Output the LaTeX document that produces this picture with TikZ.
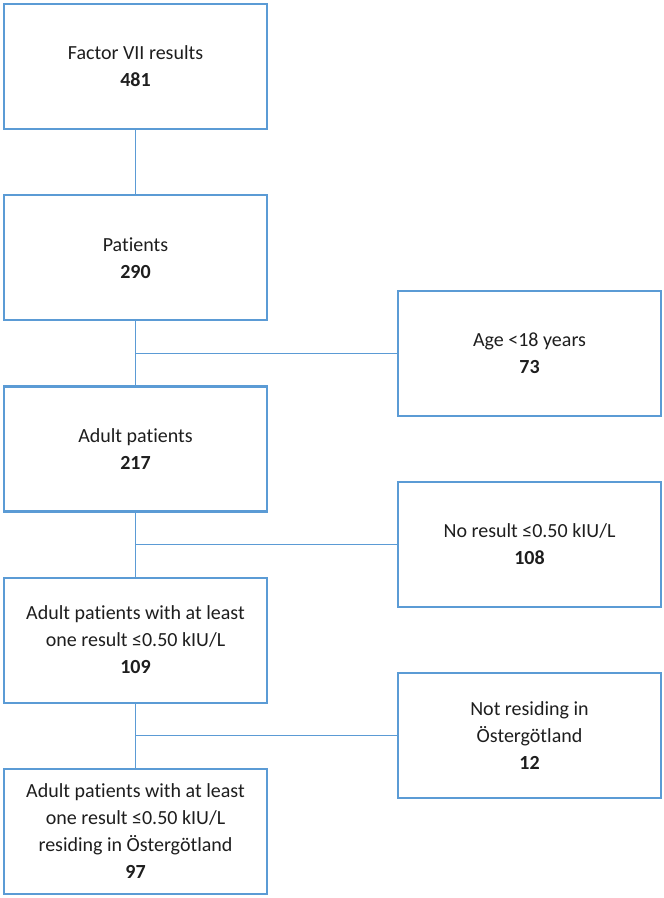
\documentclass[tikz,border=0pt]{standalone}
\usepackage{fontspec}
\setmainfont{Carlito}[Ligatures={NoCommon,NoRare}]
\usetikzlibrary{positioning}
\definecolor{boxBlue}{RGB}{91, 155, 213}
\definecolor{inkDark}{RGB}{30, 30, 30}
\tikzset{
  flowbox/.style={draw=boxBlue, fill=white, line width=2.2pt, minimum width=263pt, minimum height=125pt, inner sep=0pt, align=center, text=inkDark, font=\fontsize{20pt}{27pt}\selectfont},
  link/.style={draw=boxBlue, line width=1.3pt}
}

\begin{document}
\begin{tikzpicture}[x=1pt, y=1pt, node distance=64pt]
  \useasboundingbox (0,0) rectangle (664,-898);
  % main column
  \node[flowbox] (results) at (135.5,-66.5) {Factor VII results\\\textbf{481}};
  \node[flowbox, below=of results] (patients) {Patients\\\textbf{290}};
  \node[flowbox, below=of patients] (adult) {Adult patients\\\textbf{217}};
  \node[flowbox, below=of adult] (lowres) {Adult patients with at least\\one result ≤0.50 kIU/L\\\textbf{109}};
  \node[flowbox, below=of lowres] (final) {Adult patients with at least\\one result ≤0.50 kIU/L\\residing in Östergötland\\\textbf{97}};
  % junctions between the boxes
  \path (patients.south) -- (adult.north) coordinate[pos=0.5] (j1);
  \path (adult.south) -- (lowres.north) coordinate[pos=0.5] (j2);
  \path (lowres.south) -- (final.north) coordinate[pos=0.5] (j3);
  \coordinate (rcol) at (529.5,0);
  % excluded
  \node[flowbox] (young) at (j1 -| rcol) {Age <18 years\\\textbf{73}};
  \node[flowbox] (noresult) at (j2 -| rcol) {No result ≤0.50 kIU/L\\\textbf{108}};
  \node[flowbox] (outside) at (j3 -| rcol) {Not residing in\\Östergötland\\\textbf{12}};
  % connectors
  \draw[link] (results) -- (patients);
  \draw[link] (patients) -- (adult);
  \draw[link] (adult) -- (lowres);
  \draw[link] (lowres) -- (final);
  \draw[link] (j1) -- (young);
  \draw[link] (j2) -- (noresult);
  \draw[link] (j3) -- (outside);
\end{tikzpicture}
\end{document}
